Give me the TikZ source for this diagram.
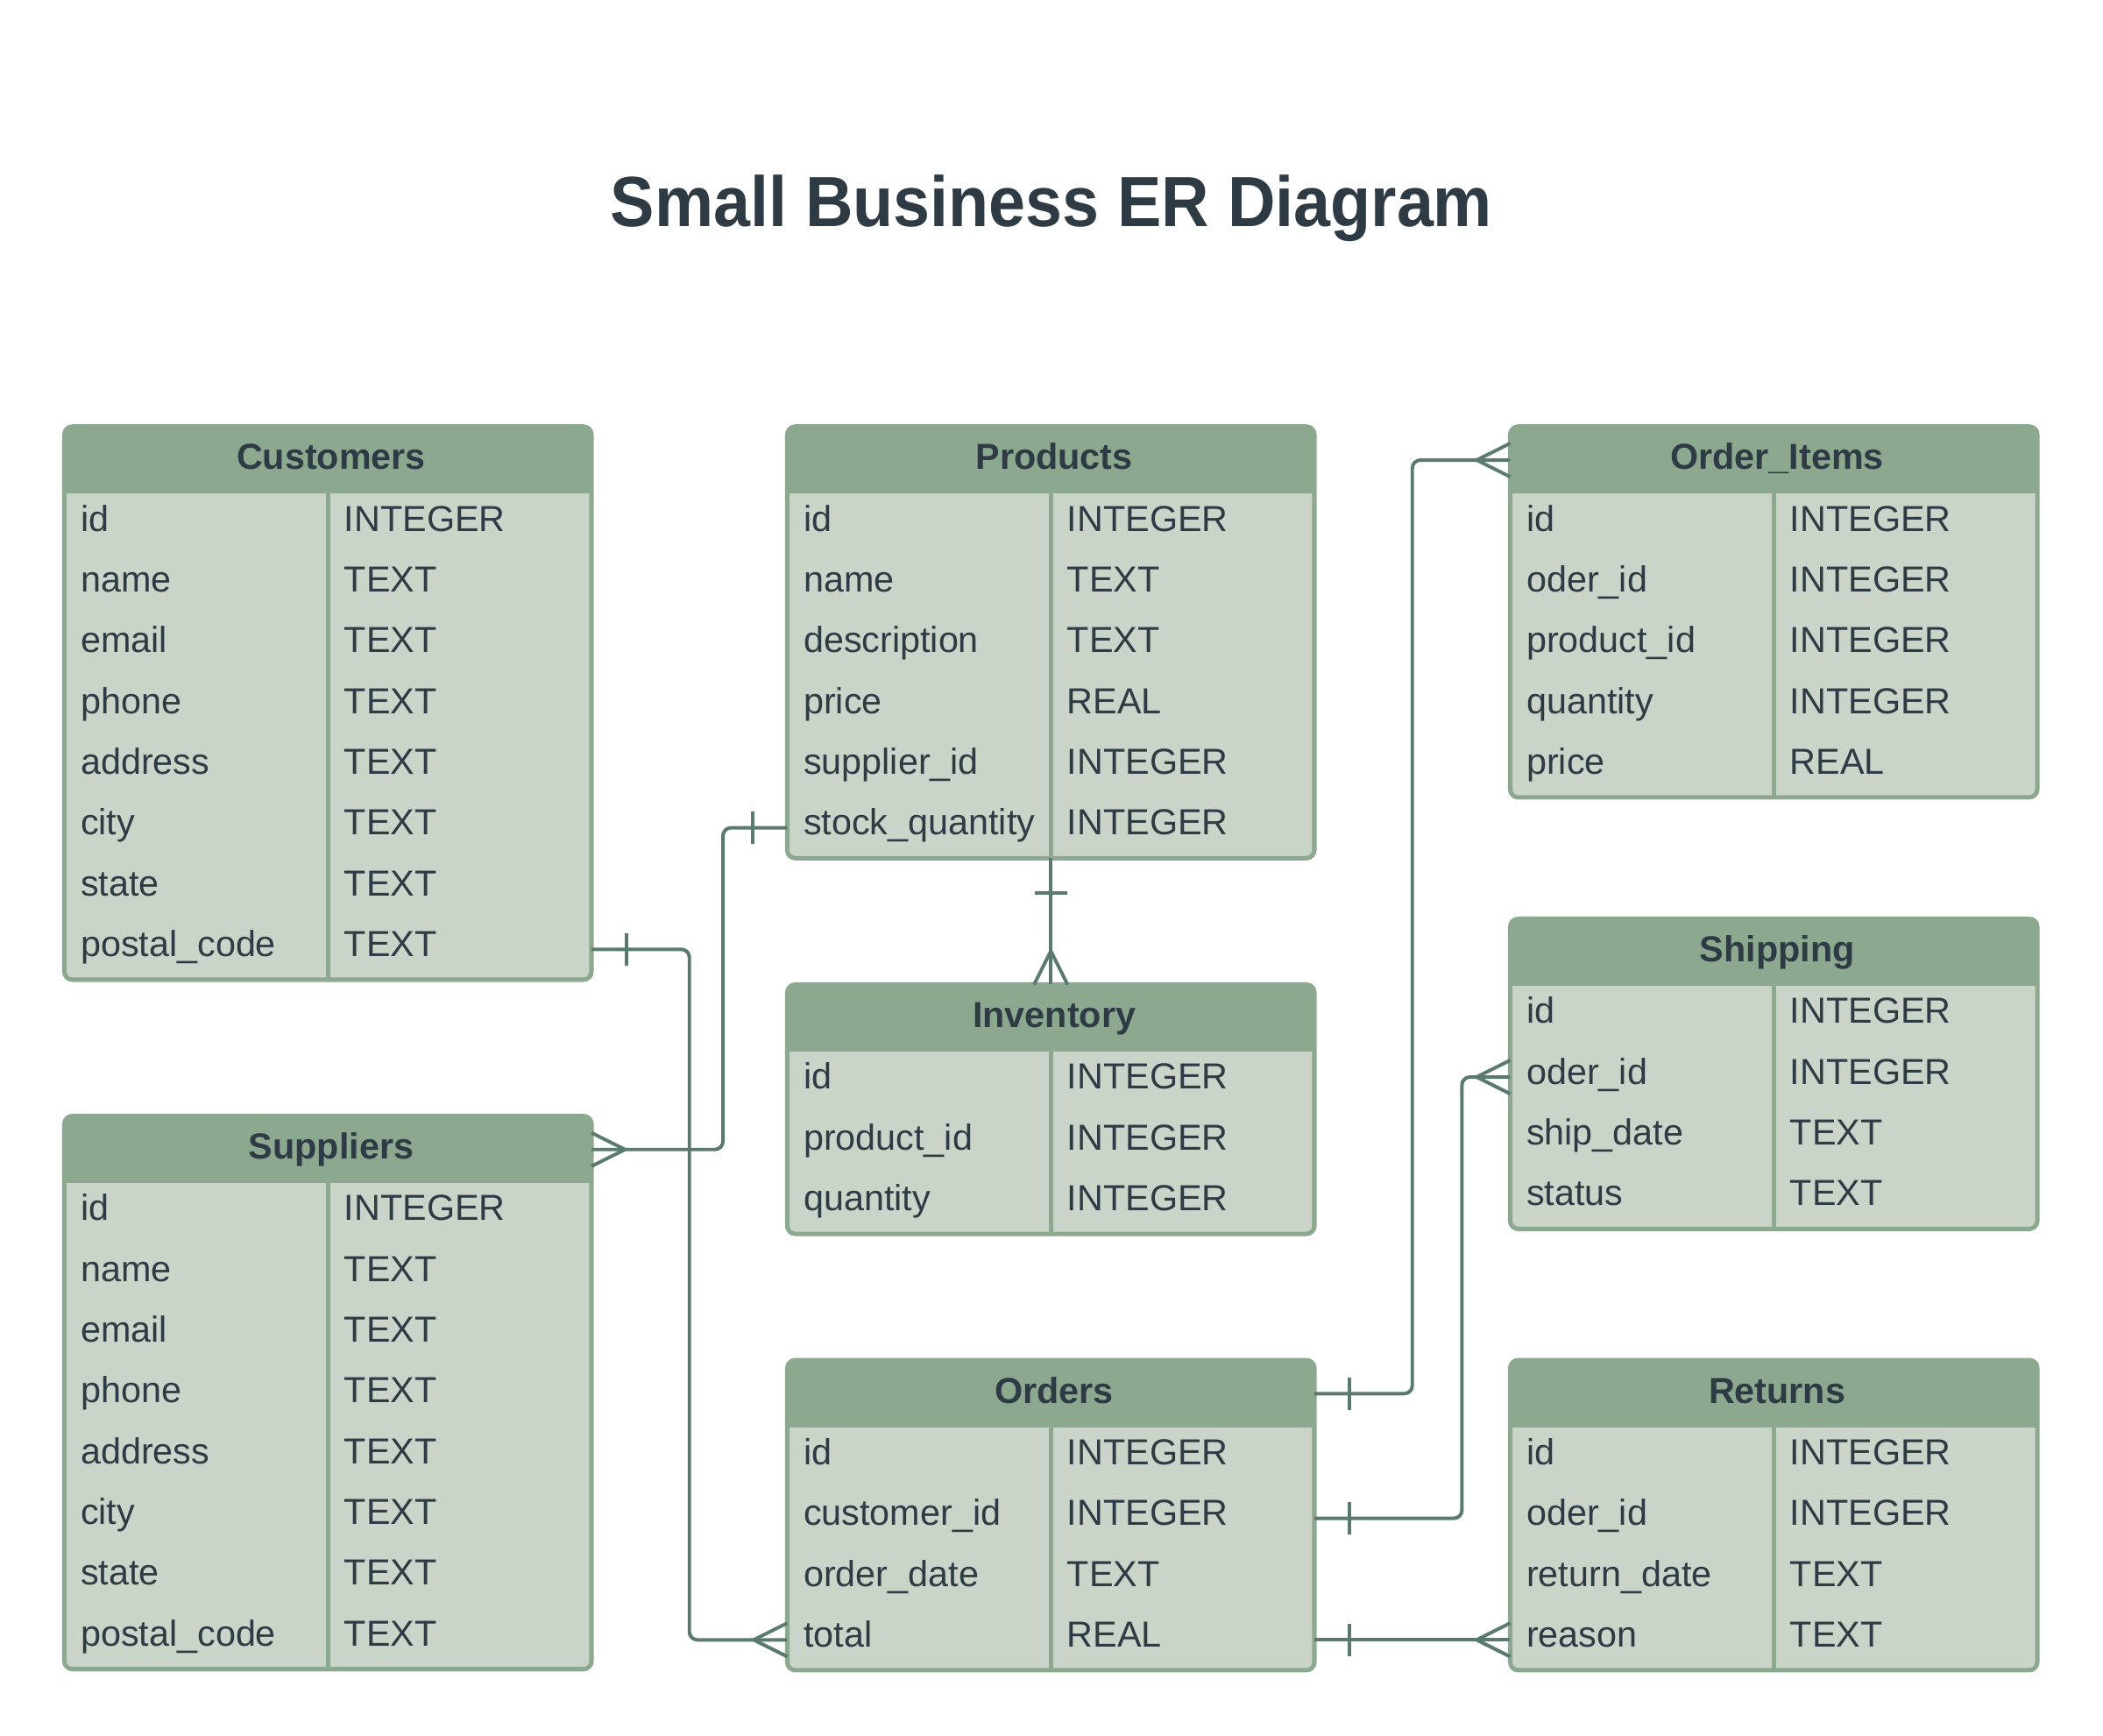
\documentclass[tikz,border=0pt]{standalone}
\usepackage{fontspec}
\usepackage{graphicx}
\setmainfont{Liberation Sans}
\usetikzlibrary{calc}
\definecolor{head}{HTML}{8CA98F}
\definecolor{bodyc}{HTML}{CBD4C8}
\definecolor{linkc}{HTML}{5A7A70}
\definecolor{ink}{HTML}{2E3B44}
\tikzset{
  x=1pt, y=1pt,
  tblbox/.style={fill=bodyc, draw=none, rounded corners=6pt, minimum width=393pt, inner sep=0pt, outer sep=0pt},
  hdrbox/.style={minimum width=393pt, minimum height=50pt, inner sep=0pt, outer sep=0pt},
  rowbox/.style={minimum width=393pt, minimum height=45.3pt, inner sep=0pt, outer sep=0pt},
  hdrtext/.style={font=\bfseries\fontsize{27}{33}\selectfont, text=ink, inner sep=0pt},
  fieldtext/.style={font=\fontsize{27}{33}\selectfont, text=ink, inner sep=0pt},
  sepline/.style={draw=head, line width=3.3pt},
  border/.style={draw=head, line width=3.3pt},
  link/.style={draw=linkc, line width=2.6pt},
}
\newcommand\ertable[6]{%
  \pgfmathsetmacro\tabH{50+#4*45.3}
  \node[tblbox, minimum height=\tabH pt, anchor=north west] (#1) at (#2,-#3) {};
  \begin{scope}
    \clip[rounded corners=6pt] (#1.north west) rectangle (#1.south east);
    \fill[head] (#1.north west) rectangle ([yshift=-50pt]#1.north east);
  \end{scope}
  \node[hdrbox, anchor=north west] (#1-h) at (#1.north west) {};
  \node[hdrtext, anchor=base] (#1-t) at ([xshift=2.5pt, yshift=-32pt]#1.north) {#5};
  \draw[sepline] ([yshift=-50pt]#1.north) -- (#1.south);
  \draw[border, rounded corners=6pt] (#1.north west) rectangle (#1.south east);
  \foreach \f/\t [count=\i] in {#6} {
    \node[rowbox, anchor=north west] (#1-r\i) at ([yshift={-50-(\i-1)*45.3}]#1.north west) {};
    \node[fieldtext, anchor=base west] (#1-f\i) at ([xshift=12pt, yshift=-28pt]#1-r\i.north west) {\f};
    \node[fieldtext, anchor=base west] (#1-y\i) at ([xshift=208.5pt, yshift=-28pt]#1-r\i.north west) {\t};
  }
}
% crow's foot where the line enters a box from the left / from the right / from above
\newcommand\manyfromleft[1]{\draw[link] ($(#1)+(-25,0)$) -- ($(#1)+(0,12.5)$) ($(#1)+(-25,0)$) -- ($(#1)+(0,-12.5)$);}
\newcommand\manyfromright[1]{\draw[link] ($(#1)+(25,0)$) -- ($(#1)+(0,12.5)$) ($(#1)+(25,0)$) -- ($(#1)+(0,-12.5)$);}
\newcommand\manyfromabove[1]{\draw[link] ($(#1)+(0,25)$) -- ($(#1)+(12.5,0)$) ($(#1)+(0,25)$) -- ($(#1)+(-12.5,0)$);}
\newcommand\onetoright[1]{\draw[link] ($(#1)+(26,-12)$) -- ($(#1)+(26,12)$);}
\newcommand\onetoleft[1]{\draw[link] ($(#1)+(-26,-12)$) -- ($(#1)+(-26,12)$);}
\newcommand\onebelow[1]{\draw[link] ($(#1)+(-12,-26)$) -- ($(#1)+(12,-26)$);}
\begin{document}
\begin{tikzpicture}
\useasboundingbox (0,0) rectangle (1568,-1293.6);
\fill[white] (0,0) rectangle (1568,-1293.6);

\node[font=\bfseries\fontsize{53}{60}\selectfont, text=ink, anchor=base, inner sep=0pt] (title) at (784,-169) {\scalebox{0.93}[1]{Small Business ER Diagram}};

\ertable{cust}{48}{318}{8}{Customers}{id/INTEGER, name/TEXT, email/TEXT, phone/TEXT, address/TEXT, city/TEXT, state/TEXT, postal\_code/TEXT}
\ertable{prod}{587}{318}{6}{Products}{id/INTEGER, name/TEXT, description/TEXT, price/REAL, supplier\_id/INTEGER, stock\_quantity/INTEGER}
\ertable{oi}{1126}{318}{5}{Order\_Items}{id/INTEGER, oder\_id/INTEGER, product\_id/INTEGER, quantity/INTEGER, price/REAL}
\ertable{inv}{587}{734}{3}{Inventory}{id/INTEGER, product\_id/INTEGER, quantity/INTEGER}
\ertable{ship}{1126}{685}{4}{Shipping}{id/INTEGER, oder\_id/INTEGER, ship\_date/TEXT, status/TEXT}
\ertable{sup}{48}{832}{8}{Suppliers}{id/INTEGER, name/TEXT, email/TEXT, phone/TEXT, address/TEXT, city/TEXT, state/TEXT, postal\_code/TEXT}
\ertable{ord}{587}{1014}{4}{Orders}{id/INTEGER, customer\_id/INTEGER, order\_date/TEXT, total/REAL}
\ertable{ret}{1126}{1014}{4}{Returns}{id/INTEGER, oder\_id/INTEGER, return\_date/TEXT, reason/TEXT}

% Customers -> Orders
\draw[link, rounded corners=6pt] (cust-r8.east) -- ([xshift=73pt]cust-r8.east) |- (ord-r4.west);
\onetoright{cust-r8.east}
\manyfromleft{ord-r4.west}
% Products -> Suppliers
\draw[link, rounded corners=6pt] (prod-r6.west) -- ([xshift=-48pt]prod-r6.west) |- (sup-h.east);
\onetoleft{prod-r6.west}
\manyfromright{sup-h.east}
% Products -> Inventory
\draw[link] (prod.south) -- (inv.north);
\onebelow{prod.south}
\manyfromabove{inv.north}
% Orders -> Order_Items
\draw[link, rounded corners=6pt] (ord-h.east) -- ([xshift=73pt]ord-h.east) |- (oi-h.west);
\onetoright{ord-h.east}
\manyfromleft{oi-h.west}
% Orders -> Shipping
\draw[link, rounded corners=6pt] (ord-r2.east) -- ([xshift=110pt]ord-r2.east) |- (ship-r2.west);
\onetoright{ord-r2.east}
\manyfromleft{ship-r2.west}
% Orders -> Returns
\draw[link] (ord-r4.east) -- (ret-r4.west);
\onetoright{ord-r4.east}
\manyfromleft{ret-r4.west}
\end{tikzpicture}
\end{document}
